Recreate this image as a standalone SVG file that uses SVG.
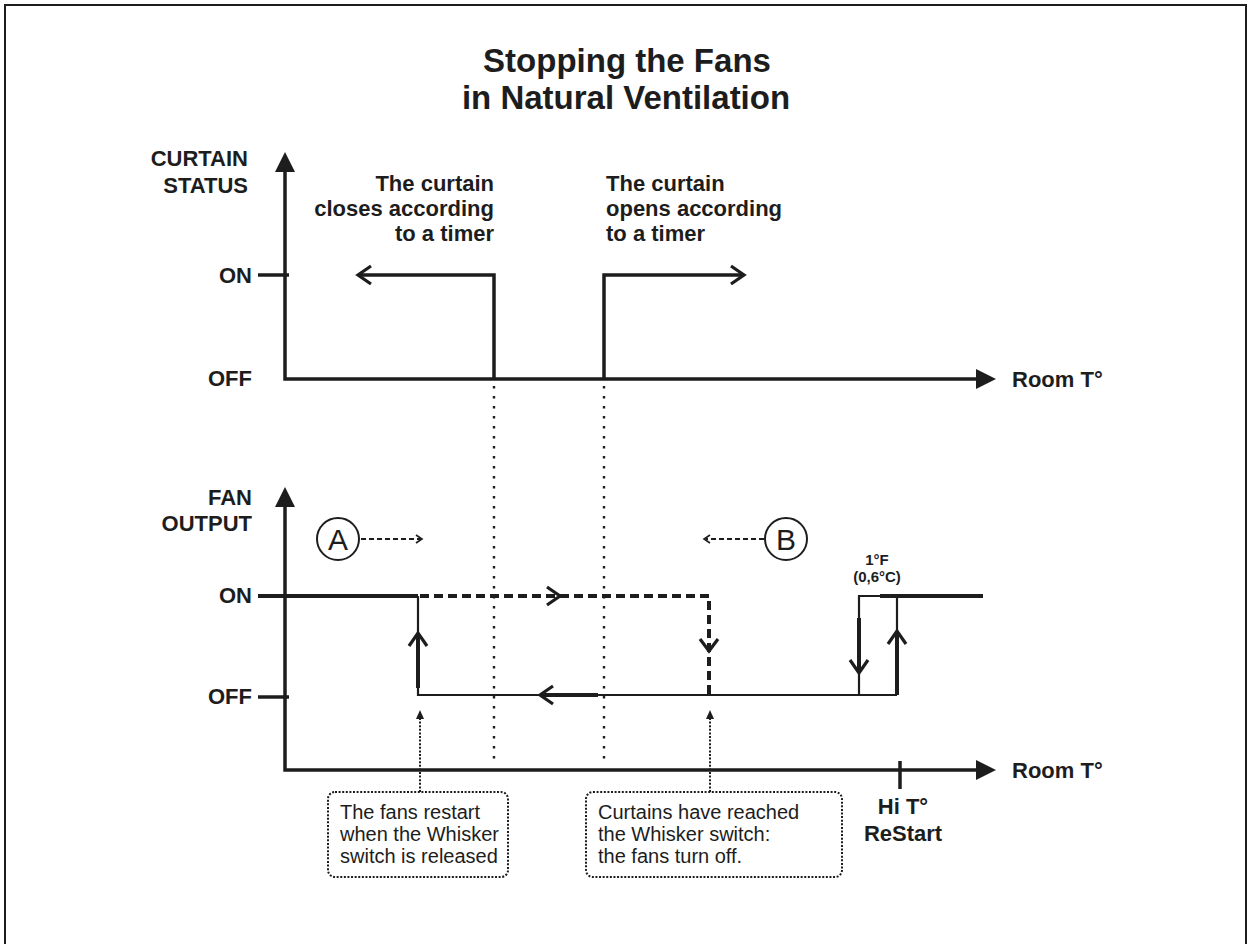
<svg xmlns="http://www.w3.org/2000/svg" width="1249" height="944" viewBox="0 0 1249 944">
<style>
.ln{stroke:#1d1d1d;fill:none;stroke-width:3.5}
.thk{stroke:#1d1d1d;fill:none;stroke-width:4}
.thin{stroke:#1d1d1d;fill:none;stroke-width:2.2}
.dash{stroke:#1d1d1d;fill:none;stroke-width:4;stroke-dasharray:9 5}
.dot{stroke:#1d1d1d;fill:none;stroke-width:2.4;stroke-dasharray:2.4 7.6}
.fdot{stroke:#1d1d1d;fill:none;stroke-width:2;stroke-dasharray:2 1.6}
.sdash{stroke:#1d1d1d;fill:none;stroke-width:1.8;stroke-dasharray:5 3}
.chev{stroke:#1d1d1d;fill:none;stroke-width:3.2;stroke-linecap:butt;stroke-linejoin:miter}
.schev{stroke:#1d1d1d;fill:none;stroke-width:1.6}
.head{fill:#1d1d1d}
.b{font-family:"Liberation Sans",Arial,Helvetica,sans-serif;font-weight:bold;font-size:22px;fill:#1d1d1d}
.r{font-family:"Liberation Sans",Arial,Helvetica,sans-serif;font-size:20px;fill:#1d1d1d}
.t{font-family:"Liberation Sans",Arial,Helvetica,sans-serif;font-weight:bold;font-size:33px;fill:#1d1d1d}
</style>
<rect x="5" y="5" width="1241" height="960" fill="#fff" stroke="#1d1d1d" stroke-width="2"/>

<g id="title">
<text class="t" x="627" y="72" text-anchor="middle">Stopping the Fans</text>
<text class="t" x="626" y="109" text-anchor="middle">in Natural Ventilation</text>
</g>

<g id="curtain-axes">
<path class="ln" d="M285,168 V379 H980"/>
<polygon class="head" points="285,152 275,172 295,172"/>
<polygon class="head" points="996,379 976,369 976,389"/>
<path class="ln" d="M258,275 H289"/>
<text class="b" x="248" y="166" text-anchor="end">CURTAIN</text>
<text class="b" x="248" y="193" text-anchor="end">STATUS</text>
<text class="b" x="252" y="283" text-anchor="end">ON</text>
<text class="b" x="252" y="386" text-anchor="end">OFF</text>
<text class="b" x="1012" y="387">Room T°</text>
</g>

<g id="curtain-close">
<path class="ln" d="M494,379 V275 H358"/>
<polyline class="chev" points="371,266 358,275 371,284"/>
<text class="b" x="494" y="191" text-anchor="end">The curtain</text>
<text class="b" x="494" y="216" text-anchor="end">closes according</text>
<text class="b" x="494" y="241" text-anchor="end">to a timer</text>
</g>

<g id="curtain-open">
<path class="ln" d="M604,379 V275 H744"/>
<polyline class="chev" points="731,266 744,275 731,284"/>
<text class="b" x="606" y="191">The curtain</text>
<text class="b" x="606" y="216">opens according</text>
<text class="b" x="606" y="241">to a timer</text>
</g>

<g id="fan-axes">
<path class="ln" d="M285,503 V770 H980"/>
<polygon class="head" points="285,487 275,507 295,507"/>
<polygon class="head" points="996,770 976,760 976,780"/>
<path class="ln" d="M258,697 H289"/>
<path class="ln" d="M900,761 V789"/>
<text class="b" x="252" y="505" text-anchor="end">FAN</text>
<text class="b" x="252" y="531" text-anchor="end">OUTPUT</text>
<text class="b" x="252" y="603" text-anchor="end">ON</text>
<text class="b" x="252" y="704" text-anchor="end">OFF</text>
<text class="b" x="1012" y="778">Room T°</text>
<text class="b" x="903" y="814" text-anchor="middle">Hi T°</text>
<text class="b" x="903" y="841" text-anchor="middle">ReStart</text>
</g>

<g id="fan-curve">
<path class="thk" d="M258,596 H418"/>
<path class="thin" d="M418,596 V695 H897"/>
<path class="thk" d="M418,688 V633"/>
<polyline class="chev" points="409,646 418,633 427,646"/>
<path class="thk" d="M540,695 H598"/>
<polyline class="chev" points="553,686 540,695 553,704"/>
<path class="dash" d="M420,596 H709 V695"/>
<polyline class="chev" points="547,587 560,596 547,605"/>
<polyline class="chev" points="700,639 709,651 718,639"/>
</g>

<g id="hysteresis">
<path class="thin" d="M859,695 V596 H897 M897,596 V695"/>
<path class="thk" d="M880,596 H983"/>
<path class="thk" d="M859,618 V672"/>
<polyline class="chev" points="850,660 859,673 868,660"/>
<path class="thk" d="M897,695 V631"/>
<polyline class="chev" points="888,644 897,631 906,644"/>
<text class="b" x="877" y="565" text-anchor="middle" style="font-size:15px">1°F</text>
<text class="b" x="877" y="582" text-anchor="middle" style="font-size:15px">(0,6°C)</text>
</g>

<g id="label-A">
<circle cx="338" cy="539" r="21" fill="none" stroke="#1d1d1d" stroke-width="2"/>
<text class="r" x="338" y="550" text-anchor="middle" style="font-size:30px">A</text>
</g>
<g id="label-B">
<circle cx="786" cy="539" r="21" fill="none" stroke="#1d1d1d" stroke-width="2"/>
<text class="r" x="786" y="550" text-anchor="middle" style="font-size:30px">B</text>
</g>

<g id="note-restart">
<rect class="fdot" x="328" y="792" width="180" height="85" rx="7"/>
<text class="r" x="340" y="819">The fans restart</text>
<text class="r" x="340" y="841">when the Whisker</text>
<text class="r" x="340" y="863">switch is released</text>
</g>
<g id="note-off">
<rect class="fdot" x="586" y="792" width="256" height="85" rx="7"/>
<text class="r" x="598" y="819">Curtains have reached</text>
<text class="r" x="598" y="841">the Whisker switch:</text>
<text class="r" x="598" y="863">the fans turn off.</text>
</g>

<g id="connectors">
<path class="dot" d="M494,386 V762 M604,386 V762"/>
<path class="sdash" d="M361,539 H421"/>
<polyline class="schev" points="416,535 422,539 416,543"/>
<path class="sdash" d="M764,539 H706"/>
<polyline class="schev" points="710,535 704,539 710,543"/>
<path class="fdot" d="M420,792 V718"/>
<polygon class="head" points="420,710 416,719 424,719"/>
<path class="fdot" d="M710,792 V718"/>
<polygon class="head" points="710,710 706,719 714,719"/>
</g>
</svg>
